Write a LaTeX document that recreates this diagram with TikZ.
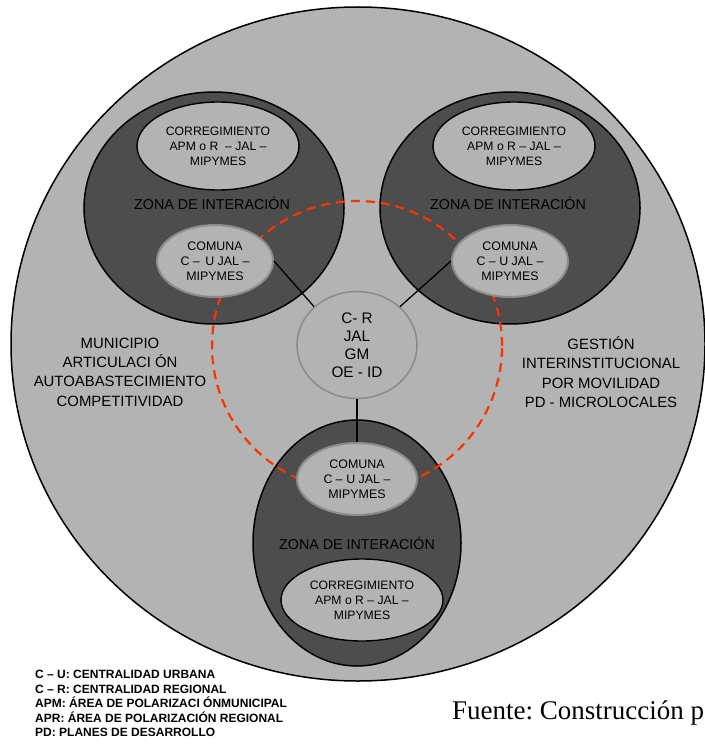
\documentclass[tikz,border=0pt]{standalone}
\usepackage{fontspec}
\setmainfont{Liberation Sans}
\newfontfamily\fuentefont{Liberation Serif}
\usetikzlibrary{shapes.geometric}
\definecolor{grisclaro}{HTML}{B3B3B3}
\definecolor{grisoscuro}{HTML}{4D4D4D}
\definecolor{grisborde}{HTML}{8C8C8C}
\definecolor{rojoanillo}{HTML}{FF3300}
\frenchspacing

\begin{document}
\begin{tikzpicture}[x=1pt, y=-1pt,
  municipio/.style={draw, ellipse, line width=1.5pt, fill=grisclaro, inner sep=0pt},
  zona/.style={draw, ellipse, line width=1.5pt, fill=grisoscuro, inner sep=0pt},
  correg/.style={draw, ellipse, line width=1.4pt, fill=grisclaro, align=center, inner sep=0pt, minimum width=162pt, minimum height=88pt, font=\fontsize{12.2}{15}\selectfont},
  comuna/.style={draw=grisborde, ellipse, line width=2pt, fill=grisclaro, align=center, inner sep=0pt, minimum width=116pt, minimum height=72pt, font=\fontsize{12.4}{15}\selectfont},
  centro/.style={draw=grisborde, ellipse, line width=1.6pt, fill=grisclaro, align=center, inner sep=0pt, minimum width=120pt, minimum height=107pt, font=\fontsize{15.3}{18}\selectfont},
  zonatexto/.style={inner sep=0pt, font=\fontsize{14.3}{17}\selectfont},
  lado/.style={align=center, inner sep=0pt, font=\fontsize{14.9}{19.3}\selectfont},
  leyenda/.style={align=left, inner sep=0pt, font=\fontsize{12}{14.5}\selectfont\bfseries},
  fuente/.style={inner sep=0pt, font=\fontsize{27}{30}\selectfont\fuentefont},
  anillo/.style={draw=rojoanillo, line width=2.2pt, dash pattern=on 9pt off 6pt},
  conector/.style={line width=1.3pt}
]
\useasboundingbox (0,0) rectangle (704,746);

\node[municipio, minimum width=694pt, minimum height=674pt] (municipio) at (358,344) {};
\node[zona, minimum width=260pt, minimum height=232pt] (zonaTL) at (214,208) {};
\node[zona, minimum width=260pt, minimum height=232pt] (zonaTR) at (510,208) {};
\node[zona, minimum width=208pt, minimum height=246pt] (zonaB) at (357,543) {};

\draw[anillo] (357,346) circle[radius=145pt];

\node[correg] (corregTL) at (218,146) {CORREGIMIENTO\\APM o R \ – JAL –\\MIPYMES};
\node[correg] (corregTR) at (514,146) {CORREGIMIENTO\\APM o R – JAL –\\MIPYMES};
\node[correg, minimum height=82pt] (corregB) at (362,600) {CORREGIMIENTO\\APM o R – JAL –\\MIPYMES};

\node[zonatexto] (textoTL) at (212,203) {ZONA DE INTERACIÓN};
\node[zonatexto] (textoTR) at (508,203) {ZONA DE INTERACIÓN};
\node[zonatexto] (textoB) at (357,543) {ZONA DE INTERACIÓN};

\node[comuna] (comunaTL) at (215,261) {COMUNA\\C – \,U JAL –\\MIPYMES};
\node[comuna] (comunaTR) at (510,261) {COMUNA\\C – U JAL –\\MIPYMES};
\node[comuna, minimum width=120pt] (comunaB) at (357,479) {COMUNA\\C – U JAL –\\MIPYMES};

\node[centro] (centro) at (357,345) {C- R\\JAL\\GM\\OE - ID};

\draw[conector] (comunaTL.east) -- (centro.north west);
\draw[conector] (comunaTR.west) -- (centro.north east);
\draw[conector] (centro.south) -- (comunaB.north);

\node[lado] (articulacion) at (120,372) {MUNICIPIO\\ARTICULACI ÓN\\AUTOABASTECIMIENTO\\COMPETITIVIDAD};
\node[lado] (gestion) at (601,372) {GESTIÓN\\INTERINSTITUCIONAL\\POR MOVILIDAD\\PD - MICROLOCALES};

\node[leyenda, anchor=north west] (siglas) at (35,670) {C – U: CENTRALIDAD URBANA\\C – R: CENTRALIDAD REGIONAL\\APM: ÁREA DE POLARIZACI ÓNMUNICIPAL\\APR: ÁREA DE POLARIZACIÓN REGIONAL\\PD: PLANES DE DESARROLLO};
\node[fuente, anchor=base west] (fuente) at (452,719) {Fuente: Construcción p};
\end{tikzpicture}
\end{document}
